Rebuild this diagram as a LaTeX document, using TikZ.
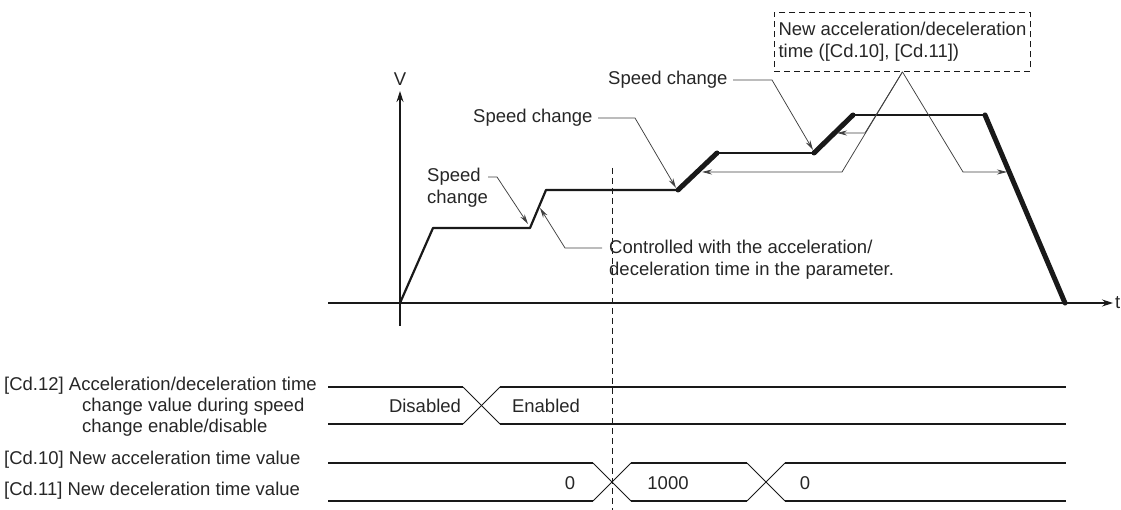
\documentclass[tikz,border=0pt]{standalone}
\usepackage{fontspec}
\setmainfont{Liberation Sans}
\usetikzlibrary{arrows.meta}
\begin{document}
\begin{tikzpicture}[x=1pt,y=-1pt,
  txt/.style={inner sep=0pt, font=\fontsize{18.5}{22}\selectfont, text=black!85},
  axis/.style={line width=1.1pt, draw=black!90, -{Stealth[length=11pt,width=7pt]}},
  prof/.style={line width=2.2pt, draw=black!90, line join=round},
  thk/.style={line width=5pt, draw=black!90, line cap=round},
  lead/.style={line width=0.75pt, draw=black!75, -{Stealth[length=10pt,width=5pt]}},
  sig/.style={line width=1.8pt, draw=black!90},
  xing/.style={line width=1pt, draw=black!90},
  dsh/.style={line width=0.9pt, draw=black!90, dash pattern=on 6pt off 4pt}]
\useasboundingbox (0,0) rectangle (1121,510);

% axes
\coordinate (vb) at (400,326);
\coordinate (vt) at (400,91);
\coordinate (tl) at (328,303);
\coordinate (tr) at (1113,303);
\draw[axis] (vb) -- (vt);
\draw[axis] (tl) -- (tr);
\node[txt] (V) at (400,79) {V};
\node[txt, anchor=west] (t) at (1115,303) {t};

% speed profile
\coordinate (O) at (400,303);
\coordinate (p1) at (433,228);
\coordinate (p2) at (530,228);
\coordinate (p3) at (546,190);
\coordinate (p4) at (678,190);
\coordinate (p5) at (717,153);
\coordinate (p6) at (814,153);
\coordinate (p7) at (853,115);
\coordinate (p8) at (985,115);
\coordinate (p9) at (1065,303);
\draw[prof] (O) -- (p1) -- (p2) -- (p3) -- (p4);
\draw[thk] (p4) -- (p5);
\draw[prof] (p5) -- (p6);
\draw[thk] (p6) -- (p7);
\draw[prof] (p7) -- (p8);
\draw[thk] (p8) -- (p9);

% dashed time marker
\coordinate (d1) at (612,168);
\coordinate (d2) at (612,510);
\draw[dsh] (d1) -- (d2);

% labels with leaders
\node[txt, anchor=west, align=left] (sc1) at (427,188) {Speed\\change};
\coordinate (sc1a) at (488,177);
\coordinate (sc1b) at (497,177);
\coordinate (sc1t) at (528,224);
\draw[lead] (sc1a) -- (sc1b) -- (sc1t);

\node[txt, anchor=west] (sc2) at (473,118) {Speed change};
\coordinate (sc2a) at (598,118);
\coordinate (sc2b) at (635,118);
\coordinate (sc2t) at (676,188);
\draw[lead] (sc2a) -- (sc2b) -- (sc2t);

\node[txt, anchor=west] (sc3) at (608,80) {Speed change};
\coordinate (sc3a) at (733,80);
\coordinate (sc3b) at (772,80);
\coordinate (sc3t) at (813,150);
\draw[lead] (sc3a) -- (sc3b) -- (sc3t);

\node[txt, anchor=west, align=left] (ctrl) at (609,259.5) {Controlled with the acceleration/\\deceleration time in the parameter.};
\coordinate (cta) at (602,248);
\coordinate (ctb) at (565,248);
\coordinate (ctt) at (540,208);
\draw[lead] (cta) -- (ctb) -- (ctt);

\node[txt, dsh, draw, align=left, anchor=north west, inner sep=2pt,
      minimum width=256pt, minimum height=59pt] (box) at (774,12)
      {New acceleration/deceleration\\time ([Cd.10], [Cd.11])};
\coordinate (b1) at (842,172);
\coordinate (b1t) at (702,172);
\coordinate (b2) at (865,133);
\coordinate (b2t) at (837,133);
\coordinate (b3) at (963,172);
\coordinate (b3t) at (1007,172);
\draw[lead] (box.south) -- (b1) -- (b1t);
\draw[lead] (box.south) -- (b2) -- (b2t);
\draw[lead] (box.south) -- (b3) -- (b3t);

% timing chart labels
\node[txt, anchor=west, align=left, font=\fontsize{18.5}{21}\selectfont] (cd12) at (4,407)
  {[Cd.12] Acceleration/deceleration time\\\hspace*{78pt}change value during speed\\\hspace*{78pt}change enable/disable};
\node[txt, anchor=west] (cd10) at (4,460) {[Cd.10] New acceleration time value};
\node[txt, anchor=west] (cd11) at (4,491) {[Cd.11] New deceleration time value};

% Cd.12 signal
\coordinate (a0t) at (328,387); \coordinate (a0b) at (328,424);
\coordinate (a1t) at (463,387); \coordinate (a1b) at (463,424);
\coordinate (a2t) at (500,387); \coordinate (a2b) at (500,424);
\coordinate (a3t) at (1066,387); \coordinate (a3b) at (1066,424);
\draw[sig] (a0t) -- (a1t);
\draw[sig] (a0b) -- (a1b);
\draw[sig] (a2t) -- (a3t);
\draw[sig] (a2b) -- (a3b);
\draw[xing] (a1t) -- (a2b);
\draw[xing] (a1b) -- (a2t);
\node[txt] (dis) at (425,406) {Disabled};
\node[txt] (ena) at (546,406) {Enabled};

% Cd.10 / Cd.11 bus
\coordinate (c0t) at (328,463); \coordinate (c0b) at (328,501);
\coordinate (c1t) at (593,463); \coordinate (c1b) at (593,501);
\coordinate (c2t) at (631,463); \coordinate (c2b) at (631,501);
\coordinate (c3t) at (747,463); \coordinate (c3b) at (747,501);
\coordinate (c4t) at (785,463); \coordinate (c4b) at (785,501);
\coordinate (c5t) at (1066,463); \coordinate (c5b) at (1066,501);
\draw[sig] (c0t) -- (c1t);
\draw[sig] (c0b) -- (c1b);
\draw[sig] (c2t) -- (c3t);
\draw[sig] (c2b) -- (c3b);
\draw[sig] (c4t) -- (c5t);
\draw[sig] (c4b) -- (c5b);
\draw[xing] (c1t) -- (c2b);
\draw[xing] (c1b) -- (c2t);
\draw[xing] (c3t) -- (c4b);
\draw[xing] (c3b) -- (c4t);
\node[txt] (v0) at (570,483) {0};
\node[txt] (v1) at (668,483) {1000};
\node[txt] (v2) at (805,483) {0};
\end{tikzpicture}
\end{document}
